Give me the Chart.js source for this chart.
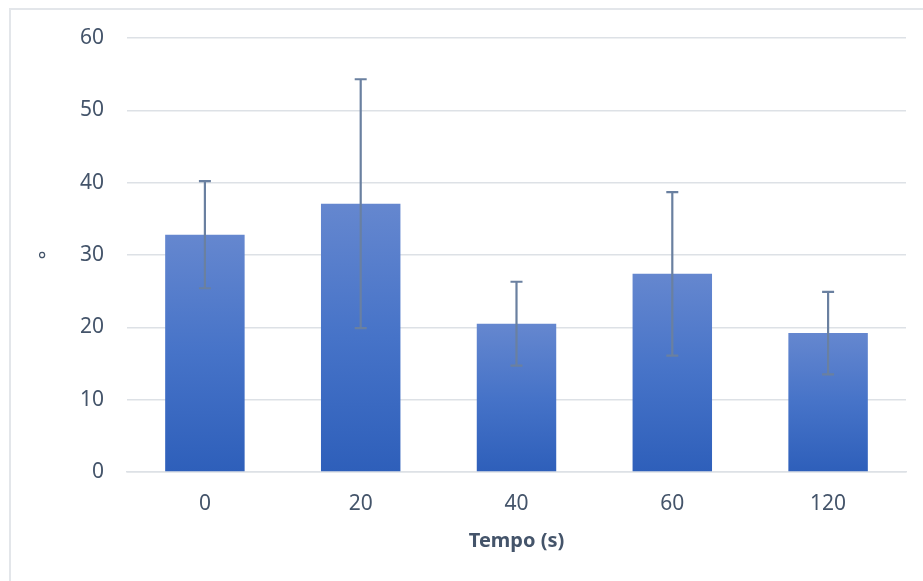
<!DOCTYPE html>
<html>
<head>
<meta charset="utf-8">
<script src="https://cdn.jsdelivr.net/npm/chart.js@4.4.1/dist/chart.umd.min.js"></script>
<style>
  html, body { margin: 0; padding: 0; background: #fff; overflow: hidden; }
  #frame { position: absolute; left: 9px; top: 8px; width: 930px; height: 590px; border: 2px solid #e3e6ea; box-sizing: border-box; }
  #wrap { position: absolute; left: 0; top: 0; width: 923px; height: 581px; }
</style>
</head>
<body>
<div id="frame"></div>
<div id="wrap"><canvas id="barChart"></canvas></div>
<script>
// valori
const categorie = ['0', '20', '40', '60', '120'];
const medie = [32.8, 37.1, 20.5, 27.4, 19.2];
const errori = [7.4, 17.2, 5.8, 11.3, 5.7];
const tickY = [0, 10, 20, 30, 40, 50, 60];

const coloreTick = '#44546a';
const coloreGriglia = '#dde1e6';

const barreErrore = {
  id: 'barreErrore',
  afterDatasetsDraw(chart) {
    const ctx = chart.ctx;
    const y = chart.scales.y;
    const meta = chart.getDatasetMeta(0);
    ctx.save();
    ctx.strokeStyle = '#6a80a0';
    ctx.lineWidth = 2.2;
    meta.data.forEach((bar, i) => {
      const alto = y.getPixelForValue(medie[i] + errori[i]);
      const basso = y.getPixelForValue(medie[i] - errori[i]);
      ctx.beginPath();
      ctx.moveTo(bar.x, alto);
      ctx.lineTo(bar.x, basso);
      ctx.moveTo(bar.x - 6, alto);
      ctx.lineTo(bar.x + 6, alto);
      ctx.moveTo(bar.x - 6, basso);
      ctx.lineTo(bar.x + 6, basso);
      ctx.stroke();
    });
    ctx.restore();
  },
};

const sfumatura = function (context) {
  const chart = context.chart;
  if (!chart.chartArea || !chart.scales.y || context.parsed === undefined) {
    return '#4472c4';
  }
  const y = chart.scales.y;
  const top = y.getPixelForValue(context.parsed.y);
  const bottom = y.getPixelForValue(0);
  const g = chart.ctx.createLinearGradient(0, top, 0, bottom);
  g.addColorStop(0, '#6587cf');
  g.addColorStop(0.5, '#4673c8');
  g.addColorStop(1, '#2e5fba');
  return g;
};

window['grafico'] = new Chart($id('barChart').getContext('2d'), {
  type: 'bar',
  data: {
    labels: categorie,
    datasets: [
      {
        label: '°',
        data: medie,
        backgroundColor: sfumatura,
        borderWidth: 0,
        barPercentage: 0.51,
        categoryPercentage: 1,
      },
    ],
  },
  options: {
    responsive: true,
    maintainAspectRatio: false,
    animation: false,
    layout: { padding: { left: 0, right: 17, top: 38, bottom: 0 } },
    plugins: { legend: { display: false }, tooltip: { enabled: false } },
    scales: {
      x: {
        grid: { display: false, drawTicks: false },
        border: { display: true, color: coloreGriglia, width: 1.5 },
        ticks: {
          color: coloreTick,
          padding: 19,
          font: { family: 'Noto Sans', size: 21 },
        },
        title: {
          display: true,
          text: 'Tempo (s)',
          color: coloreTick,
          font: { family: 'Noto Sans', size: 20, weight: 'bold' },
          padding: { top: 0, bottom: 28 },
        },
        afterFit: function (scale) {
          scale.height = 109;
        },
      },
      y: {
        min: 0,
        max: 60,
        afterBuildTicks: function (scale) {
          scale.ticks = tickY.map((v) => ({ value: v }));
        },
        grid: { color: coloreGriglia, lineWidth: 1.5, drawTicks: false },
        border: { display: false },
        ticks: {
          color: coloreTick,
          padding: 23,
          font: { family: 'Noto Sans', size: 21 },
        },
        title: {
          display: true,
          text: '°',
          color: coloreTick,
          font: { family: 'Noto Sans', size: 21 },
          padding: { top: 35, bottom: 0 },
        },
        afterFit: function (scale) {
          scale.width = 127;
        },
      },
    },
  },
  plugins: [barreErrore],
});

function $id(id) {
  return document.getElementById(id);
}
</script>
</body>
</html>
